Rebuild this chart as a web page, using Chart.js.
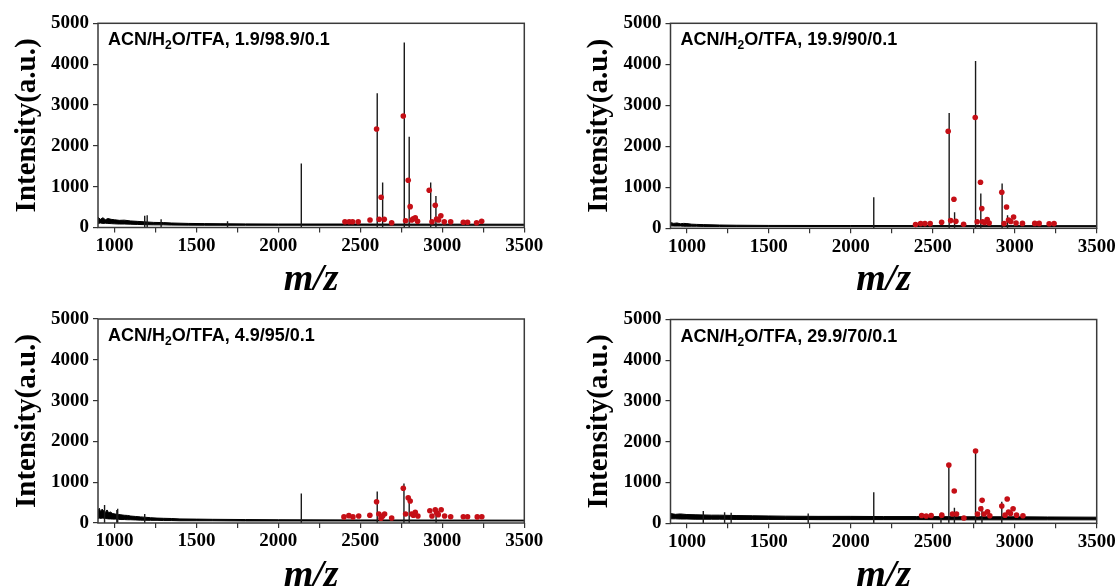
<!DOCTYPE html>
<html>
<head>
<meta charset="utf-8">
<script src="https://cdn.jsdelivr.net/npm/chart.js@4.4.1/dist/chart.umd.min.js"></script>
<style>
  body { margin: 0; background: #fff; width: 1118px; height: 588px; position: relative; overflow: hidden; }
  .box { position: absolute; width: 559px; height: 294px; }
</style>
</head>
<body>
<div class="box" style="left:0;top:0"><canvas id="c1"></canvas></div>
<div class="box" style="left:559px;top:0"><canvas id="c2"></canvas></div>
<div class="box" style="left:0;top:294px"><canvas id="c3"></canvas></div>
<div class="box" style="left:559px;top:294px"><canvas id="c4"></canvas></div>
<script>
// axis ticks
const xTicks = [1000, 1250, 1500, 1750, 2000, 2250, 2500, 2750, 3000, 3250, 3500];
const yTicks = [0, 1000, 2000, 3000, 4000, 5000];
// ACN/H2O/TFA ratio of each panel
const solvents = ['1.9/98.9/0.1', '19.9/90/0.1', '4.9/95/0.1', '29.9/70/0.1'];

// panel 1 : 1.9/98.9/0.1  (noise band = top/bottom edge of the baseline)
const noise1Mz = [900,915,930,945,960,980,1000,1030,1060,1100,1140,1180,1240,1300,1350,1450,1550,1650,1800,2000,2400,3000,3500];
const noise1Hi = [250,200,240,190,220,200,190,175,180,160,150,140,125,120,110,100,95,92,88,85,85,82,80];
const noise1Lo = [100,110,100,105,100,95,90,85,85,80,75,70,65,65,60,58,55,55,55,55,55,55,55];
const peak1Mz = [1185, 1200, 1285, 1690, 2140, 2603, 2636, 2768, 2798, 2929, 2961];
const peak1Int = [290, 300, 200, 150, 1570, 3290, 1100, 4530, 2220, 1100, 770];
const dot1Mz = [2406,2432,2453,2487,2559,2599,2615,2627,2646,2691,2762,2776,2792,2804,2813,2823,2835,2849,2920,2937,2957,2965,2977,2991,3012,3051,3128,3154,3209,3240];
const dot1Int = [142,142,142,142,184,2413,200,740,200,118,2732,167,1156,510,184,216,240,152,911,142,544,208,184,289,142,142,127,127,118,152];

// panel 2 : 19.9/90/0.1
const noise2Mz = [900,920,940,960,980,1000,1030,1060,1100,1200,1300,1500,2000,2500,3000,3500];
const noise2Hi = [140,120,130,110,120,115,100,95,90,80,75,70,68,66,65,64];
const noise2Lo = [60,55,55,55,50,50,50,50,45,45,45,45,42,42,40,40];
const peak2Mz = [2140, 2600, 2633, 2761, 2793, 2923, 2956];
const peak2Int = [760, 2810, 390, 4080, 850, 1090, 320];
const dot2Mz = [2395,2426,2452,2484,2554,2594,2609,2629,2641,2688,2759,2771,2791,2799,2804,2816,2832,2844,2921,2935,2950,2962,2976,2993,3008,3047,3122,3149,3210,3240];
const dot2Int = [90,115,115,115,146,2367,188,708,170,98,2701,160,1122,480,160,140,212,130,878,115,520,200,165,276,130,120,120,120,110,115];

// panel 3 : 4.9/95/0.1
const noise3Mz = [900,908,915,925,935,945,955,965,975,990,1005,1025,1040,1060,1080,1100,1130,1160,1220,1260,1300,1350,1400,1500,1600,1800,2000,2500,3000,3500];
const noise3Hi = [300,360,280,340,300,260,320,250,270,230,220,210,200,190,185,170,160,150,130,120,115,110,100,95,90,85,80,75,72,70];
const noise3Lo = [110,120,110,120,115,110,105,100,100,95,95,90,85,85,80,80,75,70,65,65,60,60,55,55,55,50,50,50,50,50];
const peak3Mz = [940, 1015, 1020, 1185, 2140, 2603, 2766, 2798, 2962];
const peak3Int = [440, 320, 350, 220, 720, 770, 970, 605, 250];
const dot3Mz = [2400,2430,2455,2490,2558,2599,2613,2626,2636,2648,2691,2762,2776,2792,2804,2813,2823,2835,2851,2924,2937,2957,2965,2975,2993,3014,3051,3128,3154,3213,3241];
const dot3Int = [150,180,150,170,189,522,220,115,171,220,122,850,220,620,539,220,190,262,171,301,171,326,252,205,326,171,155,155,155,150,155];

// panel 4 : 29.9/70/0.1
const noise4Mz = [900,930,960,1000,1050,1150,1200,1300,1400,1500,1600,1800,2000,2200,2400,2700,3000,3200,3500];
const noise4Hi = [240,220,230,215,210,200,200,190,185,180,175,170,170,165,165,160,160,155,150];
const noise4Lo = [110,110,105,105,100,100,100,95,95,95,95,90,90,90,90,85,85,85,85];
const peak4Mz = [1100, 1230, 1270, 1740, 2140, 2550, 2598, 2632, 2761, 2800, 2921];
const peak4Int = [300, 270, 260, 240, 760, 260, 1430, 380, 1770, 420, 530];
const dot4Mz = [2432,2460,2490,2555,2598,2620,2631,2645,2690,2761,2773,2793,2801,2813,2834,2848,2921,2941,2954,2962,2974,2990,3011,3050];
const dot4Int = [190,180,190,200,1428,230,791,230,130,1771,228,358,563,228,284,186,424,200,595,277,240,358,200,186];

Chart.defaults.font.family = '"Liberation Serif", "Times New Roman", serif';
Chart.defaults.color = '#000';

function zip(mz, val) {
  const n = Math.min(mz.length, val.length), out = [];
  for (let i = 0; i < n; i++) out.push({ x: mz[i], y: val[i] });
  return out;
}
// each peak is a vertical stick from the axis
function sticks(mz, val) {
  const out = [];
  for (let i = 0; i < Math.min(mz.length, val.length); i++) {
    out.push({ x: mz[i], y: 0 }, { x: mz[i], y: val[i] }, { x: mz[i], y: null });
  }
  return out;
}

const framePlugin = {
  id: 'frame',
  afterDatasetsDraw(chart) {
    const { ctx, chartArea: a } = chart;
    ctx.save();
    ctx.strokeStyle = '#3a3a3a';
    ctx.lineWidth = 1.5;
    ctx.strokeRect(a.left, a.top, a.right - a.left, a.bottom - a.top);
    ctx.restore();
  }
};

const solventPlugin = {
  id: 'solvent',
  afterDraw(chart, args, opts) {
    const { ctx, chartArea: a } = chart;
    const big = 'bold 18px "Liberation Sans", Arial, sans-serif';
    const small = 'bold 12px "Liberation Sans", Arial, sans-serif';
    let x = a.left + 10, y = a.top + 22;
    ctx.save();
    ctx.fillStyle = '#000';
    ctx.textBaseline = 'alphabetic';
    ctx.font = big;
    ctx.fillText('ACN/H', x, y);
    x += ctx.measureText('ACN/H').width;
    ctx.font = small;
    ctx.fillText('2', x, y + 4);
    x += ctx.measureText('2').width;
    ctx.font = big;
    ctx.fillText('O/TFA, ' + opts.text, x, y);
    ctx.restore();
  }
};

const panels = [
  { id: 'c1', mz: noise1Mz, hi: noise1Hi, lo: noise1Lo, peaks: [peak1Mz, peak1Int], dots: [dot1Mz, dot1Int],
    top: 23.3, right: 34.7, yw: 98, xh: 66.5, yPad: 13.5, xPad: -5 },
  { id: 'c2', mz: noise2Mz, hi: noise2Hi, lo: noise2Lo, peaks: [peak2Mz, peak2Int], dots: [dot2Mz, dot2Int],
    top: 23.3, right: 21.3, yw: 111.5, xh: 65.7, yPad: 26.5, xPad: -5 },
  { id: 'c3', mz: noise3Mz, hi: noise3Hi, lo: noise3Lo, peaks: [peak3Mz, peak3Int], dots: [dot3Mz, dot3Int],
    top: 25, right: 34.7, yw: 98, xh: 65, yPad: 13.5, xPad: -7 },
  { id: 'c4', mz: noise4Mz, hi: noise4Hi, lo: noise4Lo, peaks: [peak4Mz, peak4Int], dots: [dot4Mz, dot4Int],
    top: 25.5, right: 21.3, yw: 111.5, xh: 64.7, yPad: 26.5, xPad: -7 }
];

panels.forEach(function(p, k) {
  new Chart(document.getElementById(p.id), {
    type: 'line',
    data: {
      datasets: [
        { type: 'scatter', data: zip(p.dots[0], p.dots[1]), showLine: false,
          pointRadius: 2.8, pointBackgroundColor: '#c50f16', pointBorderWidth: 0 },
        { data: sticks(p.peaks[0], p.peaks[1]), borderColor: '#1a1a1a', borderWidth: 1.4,
          pointRadius: 0, spanGaps: false },
        // baseline noise band, filled between its upper and lower edge
        { data: zip(p.mz, p.hi), borderColor: '#000', borderWidth: 1, pointRadius: 0,
          fill: '+1', backgroundColor: '#000' },
        { data: zip(p.mz, p.lo), borderColor: '#000', borderWidth: 1, pointRadius: 0 }
      ]
    },
    options: {
      responsive: true,
      maintainAspectRatio: false,
      devicePixelRatio: 1,
      animation: false,
      layout: { padding: { left: 0, top: p.top, right: p.right, bottom: 0 } },
      plugins: {
        legend: { display: false },
        tooltip: { enabled: false },
        filler: { propagate: false },
        solvent: { text: solvents[k] }
      },
      scales: {
        x: {
          type: 'linear', min: 900, max: 3500,
          afterBuildTicks: function(s) { s.ticks = xTicks.map(v => ({ value: v })); },
          afterFit: function(s) { s.height = p.xh; },
          border: { display: false },
          grid: { drawOnChartArea: false, drawTicks: true, tickLength: 5, color: '#333', lineWidth: 1.2 },
          ticks: {
            autoSkip: false, maxRotation: 0, padding: 2,
            font: { weight: 'bold', size: 19 },
            callback: v => (v % 500 === 0 ? String(v) : '')
          },
          title: { display: true, text: 'm/z', padding: { top: 0, bottom: p.xPad },
            font: { weight: 'bold', style: 'italic', size: 38, lineHeight: 1 } }
        },
        y: {
          min: 0, max: 5000,
          afterBuildTicks: function(s) { s.ticks = yTicks.map(v => ({ value: v })); },
          afterFit: function(s) { s.width = p.yw; },
          border: { display: false },
          grid: { drawOnChartArea: false, drawTicks: true, tickLength: 5, color: '#333', lineWidth: 1.2 },
          ticks: { padding: 4, font: { weight: 'bold', size: 19 }, callback: v => String(v) },
          title: { display: true, text: 'Intensity(a.u.)', padding: { top: p.yPad, bottom: 0 },
            font: { weight: 'bold', size: 29, lineHeight: 1 } }
        }
      }
    },
    plugins: [framePlugin, solventPlugin]
  });
});
</script>
</body>
</html>
